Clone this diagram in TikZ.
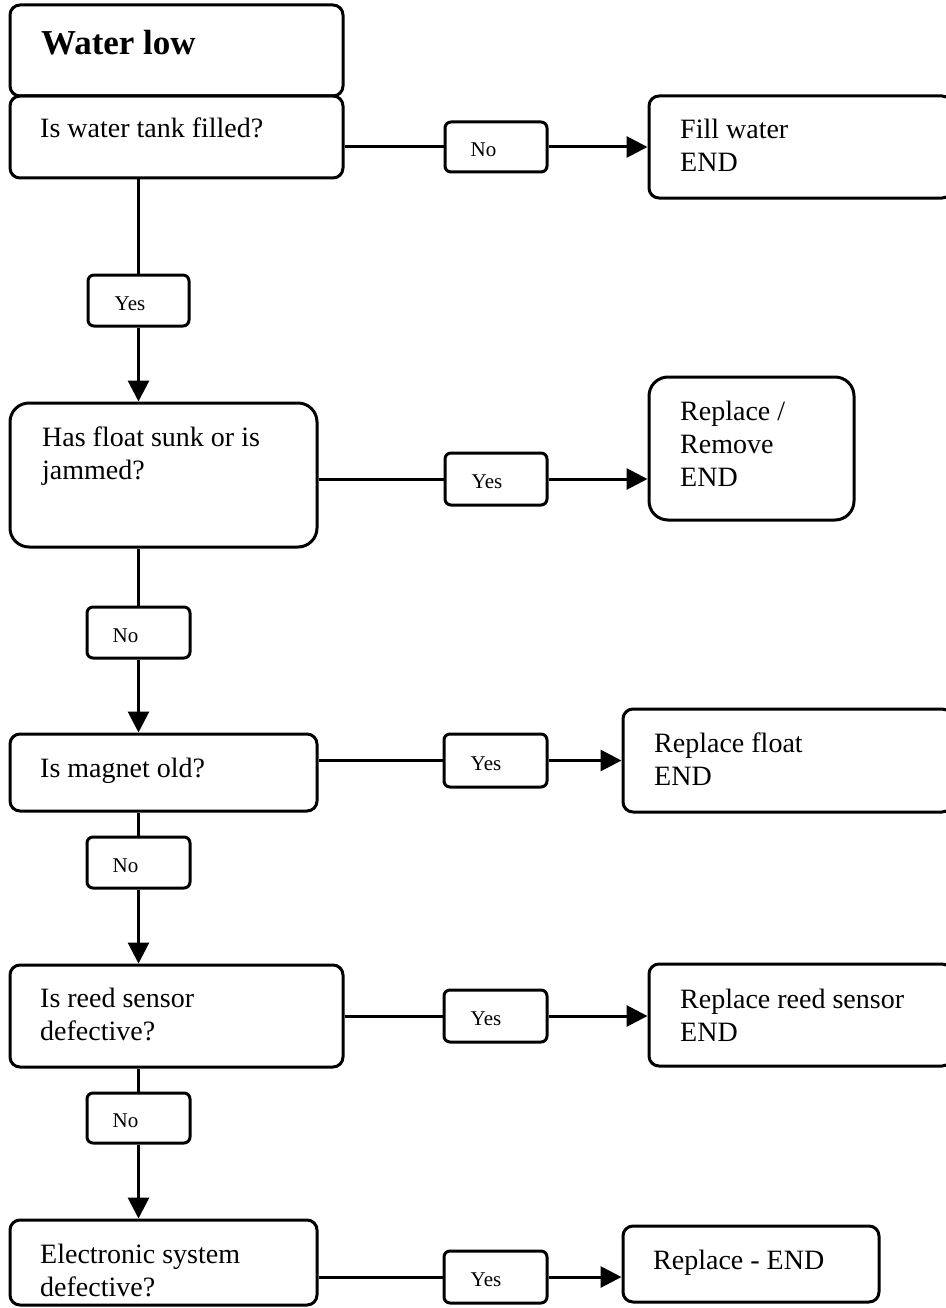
\documentclass[tikz,border=0pt]{standalone}
\usepackage{fontspec}
\setmainfont{Liberation Serif}
\usetikzlibrary{arrows.meta}
\newcommand{\mylines}[1]{\parbox[t]{330pt}{\raggedright #1}}
\begin{document}
\begin{tikzpicture}[x=1pt,y=-1pt,
  box/.style={draw, line width=3pt, rounded corners=10pt, inner sep=0pt},
  tallbox/.style={box, rounded corners=19pt},
  lbl/.style={draw, line width=3pt, rounded corners=6pt, inner sep=0pt},
  txt/.style={anchor=base west, inner sep=0pt, font=\fontsize{28}{33}\selectfont},
  ltxt/.style={anchor=base west, inner sep=0pt, font=\fontsize{21}{25}\selectfont},
  conn/.style={line width=3pt},
  arr/.style={conn, -{Triangle[length=21pt,width=21pt]}}]
\useasboundingbox (0,0) rectangle (945,1308);
% main column boxes
\node[box, minimum width=333pt, minimum height=91pt] (wl) at (176.5,50.5) {};
\node[box, minimum width=333pt, minimum height=82pt] (q1) at (176.5,137) {};
\node[tallbox, minimum width=307pt, minimum height=144pt] (q2) at (163.5,475) {};
\node[box, minimum width=307pt, minimum height=77pt] (q3) at (163.5,772.5) {};
\node[box, minimum width=333pt, minimum height=102pt] (q4) at (176.5,1016) {};
\node[box, minimum width=307pt, minimum height=85pt] (q5) at (163.5,1262.5) {};
% end boxes
\node[box, minimum width=303pt, minimum height=102pt] (e1) at (800.5,147) {};
\node[tallbox, minimum width=205pt, minimum height=143pt] (e2) at (751.5,448.5) {};
\node[box, minimum width=329pt, minimum height=103pt] (e3) at (787.5,760.5) {};
\node[box, minimum width=303pt, minimum height=102pt] (e4) at (800.5,1015) {};
\node[box, minimum width=256pt, minimum height=76pt] (e5) at (751,1264) {};
% answer labels
\node[lbl, minimum width=102pt, minimum height=50pt] (n1) at (496,147) {};
\node[lbl, minimum width=101pt, minimum height=51pt] (y1) at (138.5,300.5) {};
\node[lbl, minimum width=102pt, minimum height=52pt] (y2) at (496,479) {};
\node[lbl, minimum width=103pt, minimum height=51pt] (n2) at (138.5,632.5) {};
\node[lbl, minimum width=103pt, minimum height=53pt] (y3) at (495.5,760.5) {};
\node[lbl, minimum width=103pt, minimum height=51pt] (n3) at (138.5,862.5) {};
\node[lbl, minimum width=103pt, minimum height=52pt] (y4) at (495.5,1016) {};
\node[lbl, minimum width=103pt, minimum height=50pt] (n4) at (138.5,1118) {};
\node[lbl, minimum width=103pt, minimum height=52pt] (y5) at (495.5,1277) {};
% texts
\node[txt, font=\fontsize{35}{40}\selectfont\bfseries] (twl) at (41,55) {Water low};
\node[txt] (tq1) at (40,138) {\mylines{Is water tank filled?}};
\node[txt] (tq2) at (42,446) {\mylines{Has float sunk or is\\jammed?}};
\node[txt] (tq3) at (40,777) {\mylines{Is magnet old?}};
\node[txt] (tq4) at (40,1007) {\mylines{Is reed sensor\\defective?}};
\node[txt] (tq5) at (40,1263) {\mylines{Electronic system\\defective?}};
\node[txt] (te1) at (680,139) {\mylines{Fill water\\END}};
\node[txt] (te2) at (680,420) {\mylines{Replace /\\Remove\\END}};
\node[txt] (te3) at (654,752) {\mylines{Replace float\\END}};
\node[txt] (te4) at (680,1008) {\mylines{Replace reed sensor\\END}};
\node[txt] (te5) at (653,1269) {\mylines{Replace - END}};
\node[ltxt] (tn1) at ([xshift=27pt,yshift=-9.5pt]n1.west) {No};
\node[ltxt] (ty1) at ([xshift=28pt,yshift=-9.5pt]y1.west) {Yes};
\node[ltxt] (ty2) at ([xshift=28pt,yshift=-9.5pt]y2.west) {Yes};
\node[ltxt] (tn2) at ([xshift=27pt,yshift=-9.5pt]n2.west) {No};
\node[ltxt] (ty3) at ([xshift=28pt,yshift=-9.5pt]y3.west) {Yes};
\node[ltxt] (tn3) at ([xshift=27pt,yshift=-9.5pt]n3.west) {No};
\node[ltxt] (ty4) at ([xshift=28pt,yshift=-9.5pt]y4.west) {Yes};
\node[ltxt] (tn4) at ([xshift=27pt,yshift=-9.5pt]n4.west) {No};
\node[ltxt] (ty5) at ([xshift=28pt,yshift=-9.5pt]y5.west) {Yes};
% vertical connectors
\draw[conn] (y1 |- q1.south) -- (y1.north);
\draw[arr] (y1.south) -- (y1 |- q2.north);
\draw[conn] (n2 |- q2.south) -- (n2.north);
\draw[arr] (n2.south) -- (n2 |- q3.north);
\draw[conn] (n3 |- q3.south) -- (n3.north);
\draw[arr] (n3.south) -- (n3 |- q4.north);
\draw[conn] (n4 |- q4.south) -- (n4.north);
\draw[arr] (n4.south) -- (n4 |- q5.north);
% horizontal connectors
\draw[conn] (q1.east |- n1) -- (n1.west);
\draw[arr] (n1.east) -- (n1 -| e1.west);
\draw[conn] (q2.east |- y2) -- (y2.west);
\draw[arr] (y2.east) -- (y2 -| e2.west);
\draw[conn] (q3.east |- y3) -- (y3.west);
\draw[arr] (y3.east) -- (y3 -| e3.west);
\draw[conn] (q4.east |- y4) -- (y4.west);
\draw[arr] (y4.east) -- (y4 -| e4.west);
\draw[conn] (q5.east |- y5) -- (y5.west);
\draw[arr] (y5.east) -- (y5 -| e5.west);
\end{tikzpicture}
\end{document}
